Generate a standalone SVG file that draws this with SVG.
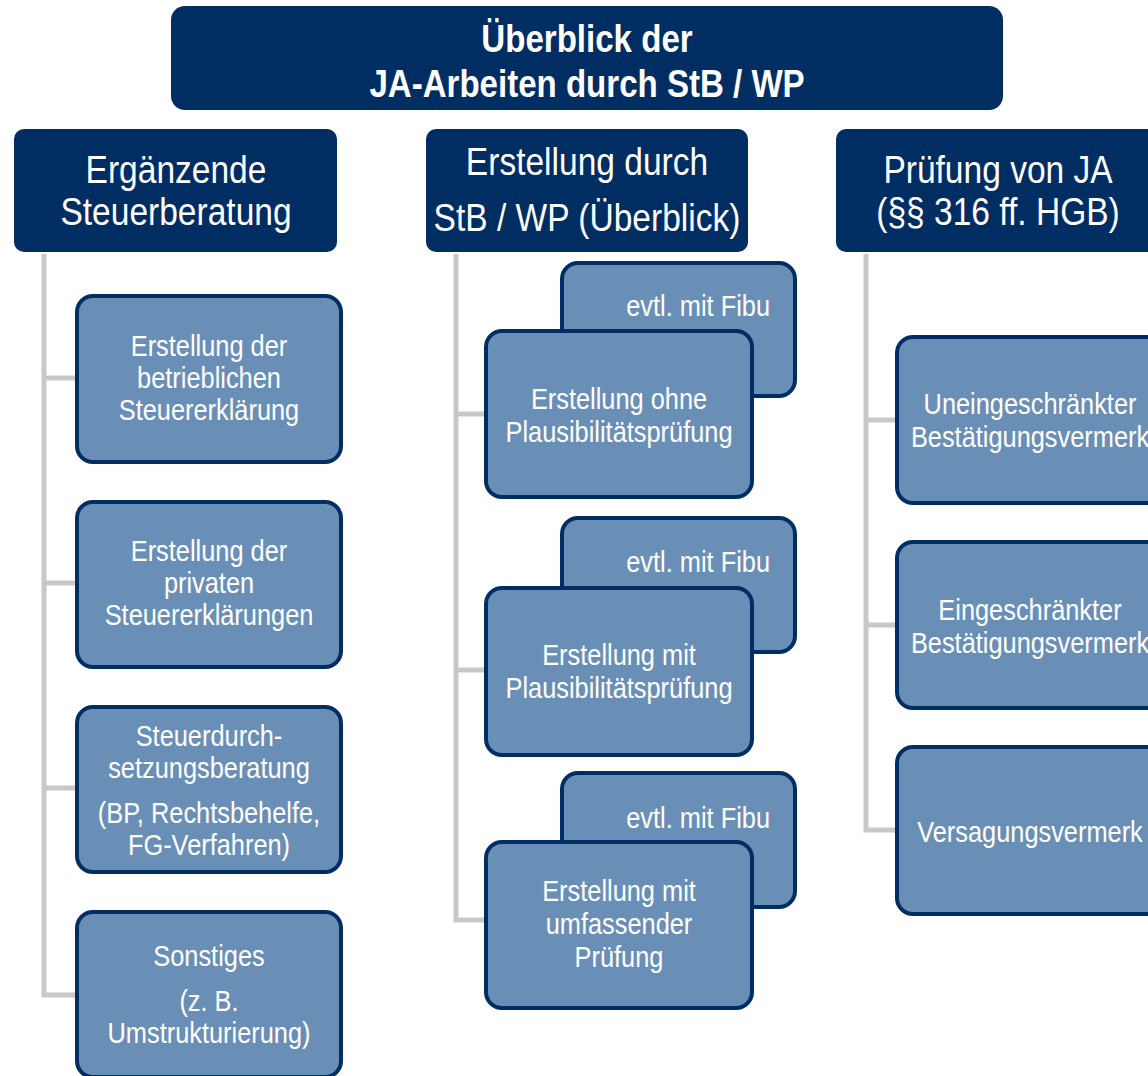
<svg xmlns="http://www.w3.org/2000/svg" width="1148" height="1076" viewBox="0 0 1148 1076">
<style>
.hdr{fill:#002D62;}
.box{fill:#6A8FB6;stroke:#002D62;stroke-width:4;}
.con{fill:none;stroke:#C8C8C8;stroke-width:5;}
text{font-family:"Liberation Sans",Arial,sans-serif;fill:#FFFFFF;text-anchor:middle;}
.t{font-size:38px;font-weight:bold;}
.h{font-size:39px;}
.c{font-size:29px;}
.r{text-anchor:end;}
</style>
<rect width="1148" height="1076" fill="#FFFFFF"/>
<g id="connectors">
<path class="con" d="M44,254 V995 H77 M44,378 H77 M44,583 H77 M44,788 H77"/>
<path class="con" d="M456,254 V920 H486 M456,414 H486 M456,670 H486"/>
<path class="con" d="M866,254 V830 H897 M866,420 H897 M866,625 H897"/>
</g>
<g id="title">
<rect class="hdr" x="171" y="6" width="832" height="104" rx="14"/>
<text class="t" transform="translate(587,52) scale(0.87,1)">Überblick der</text>
<text class="t" transform="translate(587,97) scale(0.87,1)">JA-Arbeiten durch StB / WP</text>
</g>
<g id="h1">
<rect class="hdr" x="14" y="129" width="323" height="123" rx="10"/>
<text class="h" transform="translate(176,183) scale(0.86,1)">Ergänzende</text>
<text class="h" transform="translate(176,225) scale(0.86,1)">Steuerberatung</text>
</g>
<g id="h2">
<rect class="hdr" x="426" y="129" width="322" height="123" rx="10"/>
<text class="h" transform="translate(587,175) scale(0.86,1)">Erstellung durch</text>
<text class="h" transform="translate(587,231) scale(0.86,1)">StB / WP (Überblick)</text>
</g>
<g id="h3">
<rect class="hdr" x="836" y="129" width="330" height="123" rx="10"/>
<text class="h" transform="translate(998,183) scale(0.86,1)">Prüfung von JA</text>
<text class="h" transform="translate(998,225) scale(0.86,1)">(§§ 316 ff. HGB)</text>
</g>
<g id="l1">
<rect class="box" x="77" y="296" width="264" height="166" rx="16"/>
<text class="c" transform="translate(209,356) scale(0.875,1)">Erstellung der</text>
<text class="c" transform="translate(209,388) scale(0.875,1)">betrieblichen</text>
<text class="c" transform="translate(209,420) scale(0.875,1)">Steuererklärung</text>
</g>
<g id="l2">
<rect class="box" x="77" y="502" width="264" height="165" rx="16"/>
<text class="c" transform="translate(209,561) scale(0.875,1)">Erstellung der</text>
<text class="c" transform="translate(209,593) scale(0.875,1)">privaten</text>
<text class="c" transform="translate(209,625) scale(0.875,1)">Steuererklärungen</text>
</g>
<g id="l3">
<rect class="box" x="77" y="707" width="264" height="165" rx="16"/>
<text class="c" transform="translate(209,746) scale(0.875,1)">Steuerdurch-</text>
<text class="c" transform="translate(209,778) scale(0.875,1)">setzungsberatung</text>
<text class="c" transform="translate(209,823) scale(0.875,1)">(BP, Rechtsbehelfe,</text>
<text class="c" transform="translate(209,855) scale(0.875,1)">FG-Verfahren)</text>
</g>
<g id="l4">
<rect class="box" x="77" y="912" width="264" height="165" rx="16"/>
<text class="c" transform="translate(209,966) scale(0.875,1)">Sonstiges</text>
<text class="c" transform="translate(209,1011) scale(0.875,1)">(z. B.</text>
<text class="c" transform="translate(209,1043) scale(0.875,1)">Umstrukturierung)</text>
</g>
<g id="m1b">
<rect class="box" x="562" y="263" width="233" height="133" rx="16"/>
<text class="c r" transform="translate(770,316) scale(0.875,1)">evtl. mit Fibu</text>
</g>
<g id="m1">
<rect class="box" x="486" y="331" width="266" height="166" rx="16"/>
<text class="c" transform="translate(619,409) scale(0.875,1)">Erstellung ohne</text>
<text class="c" transform="translate(619,442) scale(0.875,1)">Plausibilitätsprüfung</text>
</g>
<g id="m2b">
<rect class="box" x="562" y="518" width="233" height="134" rx="16"/>
<text class="c r" transform="translate(770,572) scale(0.875,1)">evtl. mit Fibu</text>
</g>
<g id="m2">
<rect class="box" x="486" y="588" width="266" height="167" rx="16"/>
<text class="c" transform="translate(619,665) scale(0.875,1)">Erstellung mit</text>
<text class="c" transform="translate(619,698) scale(0.875,1)">Plausibilitätsprüfung</text>
</g>
<g id="m3b">
<rect class="box" x="562" y="773" width="233" height="134" rx="16"/>
<text class="c r" transform="translate(770,828) scale(0.875,1)">evtl. mit Fibu</text>
</g>
<g id="m3">
<rect class="box" x="486" y="842" width="266" height="166" rx="16"/>
<text class="c" transform="translate(619,901) scale(0.875,1)">Erstellung mit</text>
<text class="c" transform="translate(619,934) scale(0.875,1)">umfassender</text>
<text class="c" transform="translate(619,967) scale(0.875,1)">Prüfung</text>
</g>
<g id="r1">
<rect class="box" x="897" y="337" width="266" height="166" rx="16"/>
<text class="c" transform="translate(1030,414) scale(0.875,1)">Uneingeschränkter</text>
<text class="c" transform="translate(1030,447) scale(0.875,1)">Bestätigungsvermerk</text>
</g>
<g id="r2">
<rect class="box" x="897" y="542" width="266" height="166" rx="16"/>
<text class="c" transform="translate(1030,620) scale(0.875,1)">Eingeschränkter</text>
<text class="c" transform="translate(1030,653) scale(0.875,1)">Bestätigungsvermerk</text>
</g>
<g id="r3">
<rect class="box" x="897" y="747" width="266" height="167" rx="16"/>
<text class="c" transform="translate(1030,842) scale(0.875,1)">Versagungsvermerk</text>
</g>
</svg>
